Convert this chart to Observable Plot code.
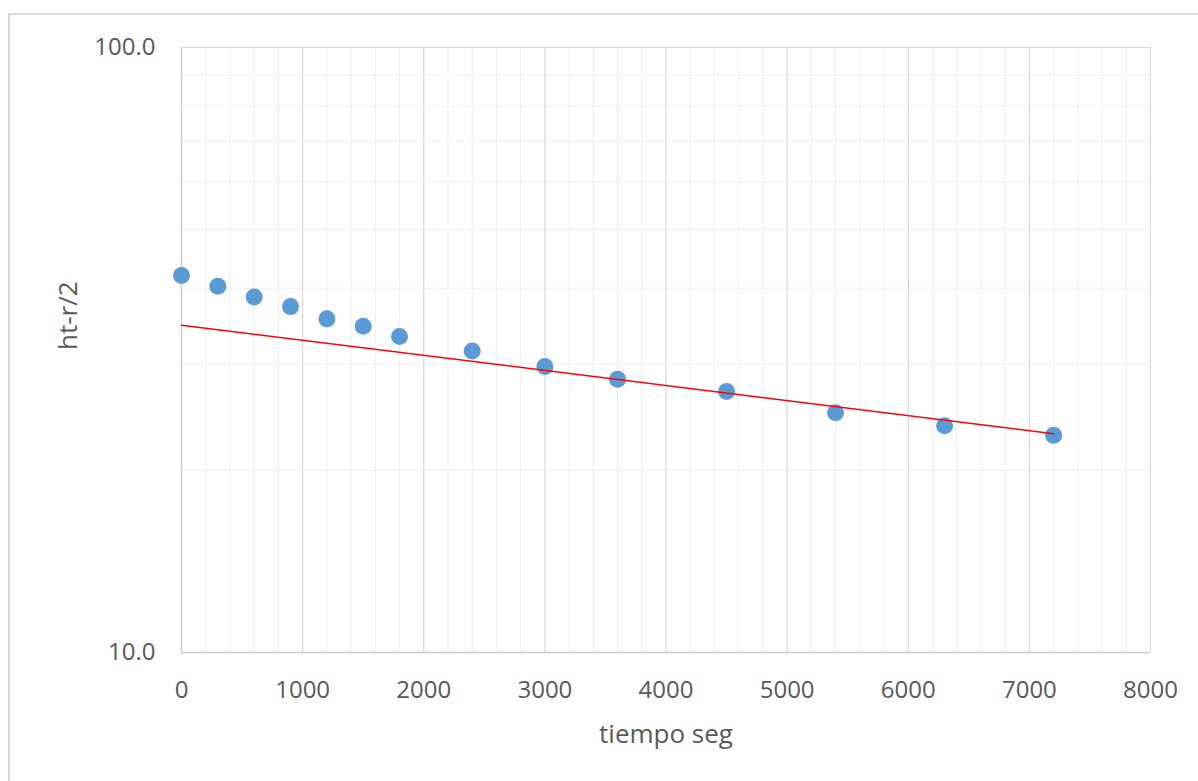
<!DOCTYPE html>
<html>
<head>
<meta charset="utf-8">
<script src="https://cdn.jsdelivr.net/npm/d3@7"></script>
<script src="https://cdn.jsdelivr.net/npm/@observablehq/plot@0.6"></script>
<style>
  html, body { margin: 0; padding: 0; background: #fff; }
  #wrap { position: relative; width: 1198px; height: 781px; overflow: hidden; }
  #border { position: absolute; left: 8px; top: 13px; width: 1300px; height: 900px;
            border-left: 2px solid #d9d9d9; border-top: 2px solid #d9d9d9; pointer-events: none; }
</style>
</head>
<body>
<div id="wrap"><div id="border"></div></div>
<script>
// Data
const tiempo = [0, 300, 600, 900, 1200, 1500, 1800, 2400, 3000, 3600, 4500, 5400, 6300, 7200];
const htr2   = [42.0, 40.3, 38.7, 37.3, 35.6, 34.6, 33.3, 31.5, 29.7, 28.3, 27.0, 24.9, 23.7, 22.85];
// Exponential trendline endpoints (as drawn)
const trendT = [0, 7200];
const trendH = [34.75, 23.0];
// Axis ticks
const xMajor = [0, 1000, 2000, 3000, 4000, 5000, 6000, 7000, 8000];
const xMinor = d3.range(200, 8000, 200).filter(v => v % 1000 !== 0);
const yMajor = [10, 100];
const yMinor = [20, 30, 40, 50, 60, 70, 80, 90];

const points = tiempo.map((t, i) => ({t, h: htr2[i]}));
const trend = trendT.map((t, i) => ({t, h: trendH[i]}));

const chart = Plot.plot({
  width: 1198,
  height: 781,
  marginLeft: 181,
  marginRight: 48,
  marginTop: 47,
  marginBottom: 129,
  style: { fontFamily: "'Open Sans', sans-serif", fontSize: "24px", color: "#595959", background: "transparent" },
  x: { domain: [0, 8000] },
  y: { type: "log", domain: [10, 100] },
  marks: [
    Plot.ruleX(xMinor, { stroke: "#eeeeee", strokeWidth: 1 }),
    Plot.ruleY(yMinor, { stroke: "#eeeeee", strokeWidth: 1 }),
    Plot.ruleX(xMajor.filter(v => v !== 0), { stroke: "#d9d9d9", strokeWidth: 1.2 }),
    Plot.ruleY([100], { stroke: "#d9d9d9", strokeWidth: 1.2 }),
    Plot.ruleX([0], { stroke: "#cccccc", strokeWidth: 1.5 }),
    Plot.ruleY([10], { stroke: "#cccccc", strokeWidth: 1.5 }),
    Plot.axisX({ ticks: xMajor, tickSize: 0, tickPadding: 28, label: null, tickFormat: d => String(d), fontSize: 24 }),
    Plot.axisY({ ticks: yMajor, tickSize: 0, tickPadding: 26, label: null, tickFormat: d => d.toFixed(1), fontSize: 24 }),
    Plot.dot(points, { x: "t", y: "h", r: 8.5, fill: "#5B9BD5", stroke: "none" }),
    Plot.line(trend, { x: "t", y: "h", stroke: "#FF0000", strokeWidth: 1.5 }),
    Plot.text(["tiempo seg"], { frameAnchor: "bottom", dy: 82, fontSize: 26, fill: "#595959", lineAnchor: "middle" }),
    Plot.text(["ht-r/2"], { frameAnchor: "left", dx: -113, rotate: -90, fontSize: 26, fill: "#595959", lineAnchor: "middle" })
  ]
});
document.getElementById("wrap").appendChild(chart);
</script>
</body>
</html>
